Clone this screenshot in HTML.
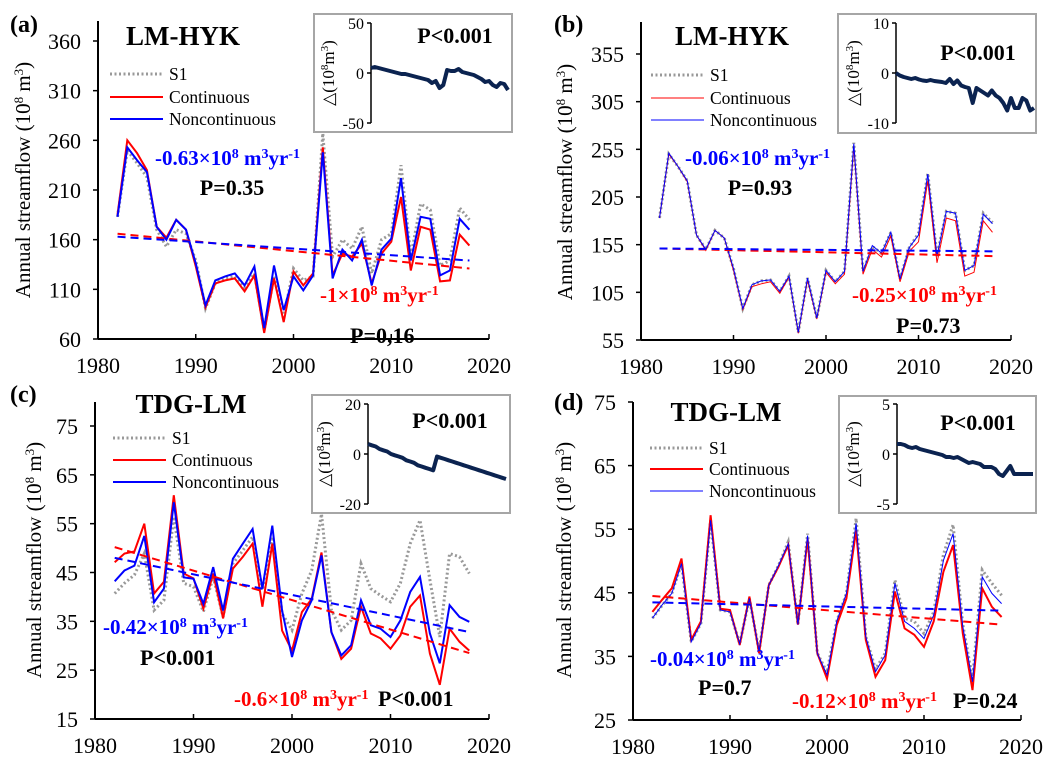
<!DOCTYPE html>
<html><head><meta charset="utf-8"><style>
html,body{margin:0;padding:0;background:#fff}
svg{display:block;font-family:"Liberation Serif",serif}
</style></head><body>
<svg id="chart" width="1056" height="775" viewBox="0 0 1056 775" xmlns="http://www.w3.org/2000/svg"></svg>
<script>
const years=[];for(let y=1982;y<=2018;y++)years.push(y);
// Panel a
const aS1=[183,250,237,223,170,153,170,166,139,91,116,121,123,112,126,69,123,82,131,119,123,267,143,160,151,173,126,160,166,235,143,196,190,134,139,192,180];
const aCont=[185,260,247,230,173,162,180,170,133,92,116,119,121,108,124,66,121,77,128,114,126,253,124,146,143,156,116,146,158,203,129,173,170,118,119,165,154];
const aNon=[183,253,240,228,173,160,180,170,136,94,119,123,126,114,133,71,134,89,123,109,124,248,121,150,139,160,114,150,161,222,139,183,181,124,129,181,170];
const aTrendCont=[166,131],aTrendNon=[163,139];
const aDelta=[5,6,5,4,3,2,1,0,-1,-1,-2,-3,-4,-5,-6,-7,-10,-8,-15,-12,3,2,2,4,1,0,-1,-2,-4,-6,-9,-8,-12,-14,-10,-11,-17];
// Panel b
const bS1=[183,250,237,222,165,150,170,162,130,88,113,117,118,106,122,63,120,78,128,116,127,262,127,153,146,168,119,152,167,230,143,190,188,128,133,188,178];
const bCont=[183,250,237,221,165,149,170,162,128,87,111,114,116,104,121,62,118,77,126,114,124,258,124,150,142,164,116,148,158,222,136,183,180,122,126,180,168];
const bNon=[183,251,237,222,165,150,170,162,130,88,113,117,118,106,122,63,120,78,128,116,127,261,127,154,146,168,119,152,165,229,143,190,188,128,133,187,177];
const bTrendCont=[151,143],bTrendNon=[151,148];
const bDelta=[0,-0.5,-0.8,-1,-1.2,-1,-1.3,-1.5,-1.6,-1.4,-1.6,-1.7,-1.8,-2,-1.2,-2.2,-1.5,-2.5,-2.8,-3,-6,-3,-3.5,-4,-4.5,-3.5,-4.5,-5,-6,-7.5,-5,-7,-7,-5,-5.5,-7.5,-7];
// Panel c
const cS1=[40.7,42.8,44.5,48.9,37.3,39.3,56.4,42.8,42.1,37,44.1,35.9,46.8,49.5,52.3,41.4,52.3,36.6,33.2,40.7,45.4,57,37.3,33.2,35.2,46.8,41.7,40.3,39,42.8,50.9,55.7,43.5,31.8,48.9,48.2,44.8];
const cCont=[47.1,48.9,49.3,55,40.7,43.1,60.8,44.8,43.8,37.6,44.8,35.6,45.8,48.2,50.9,38,50.9,33.1,29,36.9,39.6,49.1,32.8,27.3,29.4,38,32.5,31.5,29.4,32.1,38,40.3,28.4,22,33.5,30.8,29];
const cNon=[43.2,45.4,46.4,52.5,38.9,41.7,59.4,44,43.7,38.6,46.1,37.2,47.8,50.9,53.9,41.7,54.6,37.2,27.7,35.2,39.3,48.5,32.8,28,30.1,39.3,34.2,33.5,31.8,35.2,41,44.1,32.5,26.4,38.3,35.9,34.9];
const cTrendCont=[50.2,28.5],cTrendNon=[48,32.8];
const cDelta=[4,3.5,3,2,1.5,1,0,-0.5,-1,-1.5,-2.5,-3,-3.5,-4.5,-5,-5.5,-6,-6.5,-1,-1.5,-2,-2.5,-3,-3.5,-4,-4.5,-5,-5.5,-6,-6.5,-7,-7.5,-8,-8.5,-9,-9.5,-10];
// Panel d
const dS1=[41,43,44.9,49.6,37.3,40.2,56.4,42.3,42,37,44.1,35.8,46.2,49.3,53,40,54.3,35.5,32.5,40.5,44.9,56.7,38.1,33,35.5,47,41,40.5,38.6,42,51,55.7,40,31.5,48.6,46.5,44.6];
const dCont=[42,43.9,45.7,50.4,37.6,40.5,57.2,42.5,42.3,36.8,44.4,35.5,46.2,49.1,52.5,40,53.5,35.5,31.5,39.9,44.1,54.8,37.6,31.8,34.4,45.2,39.4,38.4,36.5,40.5,48.3,52.5,38.6,29.7,45.7,42.8,41.2];
const dNon=[41,43.1,44.9,49.6,37.3,40.2,56.4,42.3,42,37,44.1,35.8,46.2,49.3,52.7,40,54,35.5,32.1,40.5,44.9,55.9,38.1,32.6,35.2,46.5,40.5,39.4,37.8,41.5,50.1,54.3,39.7,31,47.5,44.9,43.3];
const dTrendCont=[44.5,40],dTrendNon=[43.5,42.2];
const dDelta=[1,1,0.9,0.7,0.6,0.7,0.5,0.4,0.3,0.2,0.1,0,-0.1,-0.3,-0.3,-0.4,-0.3,-0.5,-0.7,-0.9,-0.8,-0.9,-1,-1.3,-1.3,-1.3,-1.5,-2,-2.2,-1.7,-1.2,-2,-2,-2,-2,-2,-2];

const xTicks=[1980,1990,2000,2010,2020];
const NS="http://www.w3.org/2000/svg";
const svg=document.getElementById('chart');
function mk(tag,attrs,parent,text){const e=document.createElementNS(NS,tag);for(const k in attrs)e.setAttribute(k,attrs[k]);if(text!==undefined)e.textContent=text;(parent||svg).appendChild(e);return e;}

const panels=[
 {id:'a',s1:aS1,cont:aCont,non:aNon,tc:aTrendCont,tn:aTrendNon,delta:aDelta,x0:98,x1:489,yb:339,yt:41,axTop:21,ymin:60,ymax:360,yticks:[60,110,160,210,260,310,360],rw:2,bw:2,
  lab:[10,32],title:[183,45,'LM-HYK'],ytitle:[26,180],leg:[110,74,97,119],
  blue:[155,165,'-0.63'],bp:[232,195,'P=0.35'],red:[320,302,'-1'],rp:[350,343,'P=0,16'],
  inset:{bx:314,by:14,bw:198,bh:118,ax:371,yt:23,yb:123,x1:508,max:50,min:-50,p:[455,43],tt:332}},
 {id:'b',s1:bS1,cont:bCont,non:bNon,tc:bTrendCont,tn:bTrendNon,delta:bDelta,x0:641,x1:1011,yb:340,yt:54,axTop:22,ymin:55,ymax:355,yticks:[55,105,155,205,255,305,355],rw:1,bw:1,
  lab:[554,32],title:[732,45,'LM-HYK'],ytitle:[568,182],leg:[651,75,98,120],
  blue:[685,165,'-0.06'],bp:[760,195,'P=0.93'],red:[852,302,'-0.25'],rp:[896,333,'P=0.73'],
  inset:{bx:838,by:14,bw:198,bh:119,ax:896,yt:23,yb:123,x1:1034,max:10,min:-10,p:[978,60],tt:857}},
 {id:'c',s1:cS1,cont:cCont,non:cNon,tc:cTrendCont,tn:cTrendNon,delta:cDelta,x0:95,x1:489,yb:719,yt:426,axTop:402,ymin:15,ymax:75,yticks:[15,25,35,45,55,65,75],rw:2,bw:2,
  lab:[10,402],title:[191,413,'TDG-LM'],ytitle:[37,560],leg:[113,438,460,482],
  blue:[103,634,'-0.42'],bp:[140,665,'P<0.001'],red:[234,706,'-0.6'],rp:[378,706,'P<0.001'],
  inset:{bx:312,by:395,bw:198,bh:118,ax:368,yt:404,yb:504,x1:506,max:20,min:-20,p:[450,428],tt:328}},
 {id:'d',s1:dS1,cont:dCont,non:dNon,tc:dTrendCont,tn:dTrendNon,delta:dDelta,x0:633,x1:1021,yb:720,yt:402,axTop:402,ymin:25,ymax:75,yticks:[25,35,45,55,65,75],rw:2,bw:1,
  lab:[554,410],title:[726,421,'TDG-LM'],ytitle:[567,560],leg:[650,448,469,491],
  blue:[650,666,'-0.04'],bp:[698,695,'P=0.7'],red:[792,708,'-0.12'],rp:[953,708,'P=0.24'],
  inset:{bx:839,by:396,bw:197,bh:117,ax:897,yt:404,yb:504,x1:1033,max:5,min:-5,p:[978,430],tt:857}}
];

panels.forEach(P=>{
  const g=mk('g',{});
  
  
  const X=v=>P.x0+(v-1980)/40*(P.x1-P.x0);
  const Y=v=>P.yb-(v-P.ymin)/(P.ymax-P.ymin)*(P.yb-P.yt);
  const ya=mk('line',{x1:P.x0,y1:P.axTop,x2:P.x0,y2:P.yb,stroke:'#000','stroke-width':2},g);
  
  const xa=mk('line',{x1:P.x0,y1:P.yb,x2:P.x1,y2:P.yb,stroke:'#000','stroke-width':2},g);
  
  P.yticks.forEach(t=>{
    mk('line',{x1:P.x0-5,y1:Y(t),x2:P.x0,y2:Y(t),stroke:'#000','stroke-width':1.5},g);
    const tl=mk('text',{x:P.x0-17,y:Y(t)+8,'text-anchor':'end','font-size':22},g,String(t));
    
  });
  xTicks.forEach(t=>{
    mk('line',{x1:X(t),y1:P.yb,x2:X(t),y2:P.yb-5,stroke:'#000','stroke-width':1.5},g);
    const tl=mk('text',{x:X(t),y:P.yb+34,'text-anchor':'middle','font-size':22},g,String(t));
    
  });
  const yt=mk('text',{x:0,y:0,transform:`translate(${P.ytitle[0]+4},${P.ytitle[1]}) rotate(-90)`,'text-anchor':'middle','font-size':21},g);
  
  yt.innerHTML='Annual streamflow (10<tspan baseline-shift="super" font-size="13">8</tspan> m<tspan baseline-shift="super" font-size="13">3</tspan>)';
  const pl=mk('text',{x:P.lab[0],y:P.lab[1],'font-size':24,'font-weight':'bold'},g,'('+P.id+')');
  
  const ti=mk('text',{x:P.title[0],y:P.title[1],'text-anchor':'middle','font-size':27,'font-weight':'bold'},g,P.title[2]);
  
  const pts=arr=>arr.map((v,i)=>X(years[i]).toFixed(1)+','+Y(v).toFixed(1)).join(' ');
  const s1=mk('polyline',{points:pts(P.s1),fill:'none',stroke:'#999','stroke-width':3,'stroke-dasharray':'2,2.5'},g);
  
  const rc=mk('polyline',{points:pts(P.cont),fill:'none',stroke:'#ff0000','stroke-width':P.rw},g);
  
  const bn=mk('polyline',{points:pts(P.non),fill:'none',stroke:'#0000ff','stroke-width':P.bw},g);
  
  const t1=mk('line',{x1:X(1982),y1:Y(P.tc[0]),x2:X(2018),y2:Y(P.tc[1]),stroke:'#ff0000','stroke-width':2,'stroke-dasharray':'8,5'},g);
  
  const t2=mk('line',{x1:X(1982),y1:Y(P.tn[0]),x2:X(2018),y2:Y(P.tn[1]),stroke:'#0000ff','stroke-width':2,'stroke-dasharray':'8,5'},g);
  
  const L=P.leg;
  const lg=mk('g',{},g);
  [['S1','#999',3,'2,2.5',L[1]],['Continuous','#ff0000',P.rw,'',L[2]],['Noncontinuous','#0000ff',P.bw,'',L[3]]].forEach(e=>{
    const le=mk('line',{x1:L[0],y1:e[4],x2:L[0]+53,y2:e[4],stroke:e[1],'stroke-width':e[2],'stroke-dasharray':e[3]||'none'},lg);
    
    const lt=mk('text',{x:L[0]+59,y:e[4]+6,'font-size':17.5},lg,e[0]);
    
  });
  const ann=(pos,color)=>{const t=mk('text',{x:pos[0],y:pos[1],'font-size':21,'font-weight':'bold',fill:color},g);
    t.innerHTML=pos[2]+'×10<tspan baseline-shift="super" font-size="14">8</tspan> m<tspan baseline-shift="super" font-size="14">3</tspan>yr<tspan baseline-shift="super" font-size="14">-1</tspan>';return t;};
  const ba=ann(P.blue,'#0000ff');
  const ra=ann(P.red,'#ff0000');
  const bpt=mk('text',{x:P.bp[0],y:P.bp[1],'font-size':22,'font-weight':'bold','text-anchor':P.id==='a'||P.id==='b'?'middle':'start'},g,P.bp[2]);
  
  const rpt=mk('text',{x:P.rp[0],y:P.rp[1],'font-size':22,'font-weight':'bold'},g,P.rp[2]);
  
  const I=P.inset;
  const ig=mk('g',{},g);
  mk('rect',{x:I.bx,y:I.by,width:I.bw,height:I.bh,fill:'#fff',stroke:'#a6a6a6','stroke-width':2},ig);
  mk('line',{x1:I.ax,y1:I.yt,x2:I.ax,y2:I.yb,stroke:'#000','stroke-width':1.5},ig);
  const IY=v=>I.yb-(v-I.min)/(I.max-I.min)*(I.yb-I.yt);
  [I.max,0,I.min].forEach(t=>{
    mk('line',{x1:I.ax-4,y1:IY(t),x2:I.ax,y2:IY(t),stroke:'#000','stroke-width':1.5},ig);
    const tl=mk('text',{x:I.ax-7,y:IY(t)+6,'text-anchor':'end','font-size':16},ig,String(t));
    
  });
  const it=mk('text',{x:0,y:0,transform:`translate(${I.tt+2},${(I.yt+I.yb)/2}) rotate(-90)`,'text-anchor':'middle','font-size':17},ig);
  
  it.innerHTML='△(10<tspan baseline-shift="super" font-size="11">8</tspan>m<tspan baseline-shift="super" font-size="11">3</tspan>)';
  const n=P.delta.length;
  const IX=i=>I.ax+i/(n-1)*(I.x1-I.ax);
  const dl=mk('polyline',{points:P.delta.map((v,i)=>IX(i).toFixed(1)+','+IY(v).toFixed(1)).join(' '),fill:'none',stroke:'#0b2350','stroke-width':4,'stroke-linejoin':'round'},ig);
  
  const ip=mk('text',{x:I.p[0],y:I.p[1],'text-anchor':'middle','font-size':22,'font-weight':'bold'},ig,'P<0.001');
  
});
</script>
</body></html>
